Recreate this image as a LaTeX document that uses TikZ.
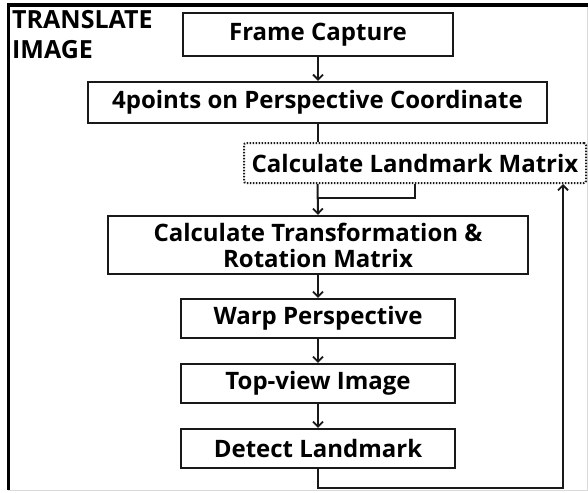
\documentclass[tikz,border=0pt]{standalone}
\usepackage{fontspec}
\setmainfont{Open Sans}
\usetikzlibrary{arrows.meta,calc}
\tikzset{
  x=1pt, y=-1pt,
  stage/.style={draw=black!90, line width=2.4pt, rectangle, inner sep=0pt,
    align=center, font=\bfseries\fontsize{24}{28}\selectfont},
  dotbox/.style={stage, line width=2pt, dash pattern=on 1.5pt off 1.5pt, rounded corners=2pt},
  link/.style={draw=black!90, line width=2pt},
  arr/.style={link, -{Straight Barb[length=5pt,width=10pt,line width=1.8pt]}},
}
\begin{document}
\begin{tikzpicture}
  \useasboundingbox (0,0) rectangle (588,492);
  % outer frame: heavy left/top edge, faint right/bottom edge
  \draw[black!15, line width=1pt] (587.5,5) -- (587.5,490.5) -- (8,490.5);
  \draw[black, line width=3.2pt] (8.5,490) -- (8.5,5) -- (588,5);

  \node[anchor=north west, align=left, inner sep=0pt,
        font=\bfseries\fontsize{25}{30}\selectfont] (title) at (12,10)
        {TRANSLATE\\IMAGE};

  \node[stage, minimum width=270, minimum height=43] (fc) at (318,34.5) {Frame Capture};
  \node[stage, minimum width=459, minimum height=41] (pts) at (317.5,102.5) {4points on Perspective Coordinate};
  \node[dotbox, minimum width=342, minimum height=40] (lm) at (415,163) {Calculate Landmark Matrix};
  \node[stage, minimum width=420, minimum height=58, font=\bfseries\fontsize{24}{26}\selectfont] (ct) at (318,245)
        {Calculate Transformation \&\\Rotation Matrix};
  \node[stage, minimum width=274, minimum height=39] (wp) at (318,318.5) {Warp Perspective};
  \node[stage, minimum width=274, minimum height=39] (tv) at (318,383.5) {Top-view Image};
  \node[stage, minimum width=274, minimum height=39] (dl) at (318,448.5) {Detect Landmark};

  \coordinate (fbin) at ($(lm.south east)+(-24,0)$);

  \draw[arr] (fc.south) -- (fc.south |- pts.north);
  \draw[link] (pts.south) -- (pts.south |- lm.north);
  \draw[arr] (pts.south |- lm.south) -- (ct.north);
  \draw[link] (lm.south) |- ($(ct.north)+(0,-17)$);
  \draw[arr] (ct.south) -- (wp.north);
  \draw[arr] (wp.south) -- (tv.north);
  \draw[arr] (tv.south) -- (dl.north);
  \draw[arr] (dl.south) -- ++(0,19) -| (fbin);
\end{tikzpicture}
\end{document}
